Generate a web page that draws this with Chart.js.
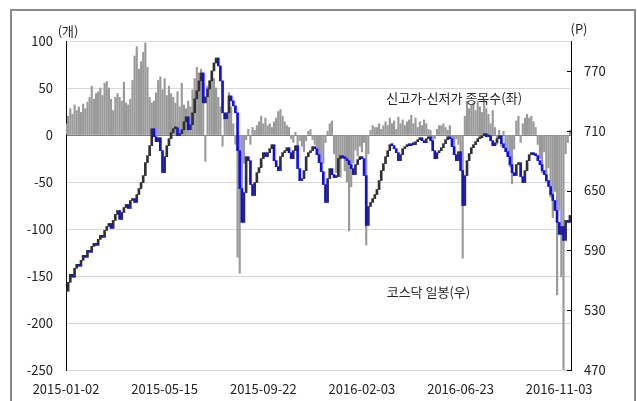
<!DOCTYPE html>
<html>
<head>
<meta charset="utf-8">
<script src="https://cdn.jsdelivr.net/npm/chart.js@4.4.0/dist/chart.umd.min.js"></script>
<style>
  html, body { margin: 0; padding: 0; background: #fff; }
  #wrap { position: relative; width: 637px; height: 401px; overflow: hidden; }
  #frame { position: absolute; left: 10px; top: 9px; width: 622px; height: 400px; border: 2px solid #8a8a8a; }
  canvas { position: absolute; left: 0; top: 0; }
</style>
</head>
<body>
<div id="wrap">
  <div id="frame"></div>
  <canvas id="chart" width="637" height="401"></canvas>
</div>
<script>
// x 축 날짜 라벨 (2거래일 간격 데이터 기준 위치)
const dateLabels = ['2015-01-02', '2015-05-15', '2015-09-22', '2016-02-03', '2016-06-23', '2016-11-03'];
const dateIndex = [0, 46, 92, 138, 184, 230];
const leftTicks = [-250, -200, -150, -100, -50, 0, 50, 100];
const rightTicks = [470, 530, 590, 650, 710, 770];

// 신고가-신저가 종목수 (개)
const highLowCount = [
  12, 20, 28, 22, 32, 26, 30, 24, 33, 28,
  35, 40, 52, 38, 44, 46, 50, 42, 55, 57,
  50, 38, 26, 40, 44, 40, 36, 56, 34, 32,
  38, 58, 84, 94, 70, 78, 88, 98, 72, 40,
  34, 36, 45, 58, 62, 48, 60, 42, 52, 44,
  40, 34, 46, 30, 55, 32, 28, 36, 30, 48,
  60, 72, 66, 70, 55, -28, 52, 58, 65, 60,
  50, 40, 30, -12, 22, 18, 45, 30, 12, -10,
  -130, -147, -90, -30, -5, 6, -10, 8, 5, 10,
  14, 20, 12, 18, 10, 12, 8, 14, 18, 25,
  27, 20, 14, 10, 8, -4, -8, 3, -14, -6,
  -12, -18, -6, 4, 6, -5, -10, -14, -22, -36,
  -30, -8, 4, 12, 15, -20, -40, -30, -45, -25,
  -38, -50, -102, -55, -30, -16, -22, -12, -18, -8,
  -117, -20, 5, 10, 8, 8, 12, 6, 10, 14,
  10, 18, 12, 15, 6, 19, 12, 16, 10, 14,
  16, 21, 12, 18, 8, 14, 10, 16, 12, 6,
  5, -8, -4, 6, 10, 10, 12, 8, 5, 10,
  -6, -14, -4, -10, -20, -131, 20, 36, 28, 32,
  34, 26, 36, 30, 24, 38, 28, 22, 12, 26,
  8, -10, 5, -12, 4, -12, -20, -34, -52, -15,
  15, 20, -8, 12, 18, 22, 18, 20, 14, 8,
  -10, -25, -40, -18, -50, -35, -66, -88, -60, -170,
  -80, -151, -250, -20, -8, 5
];

// 코스닥 종가 (P)
const kosdaqClose = [
  549, 558, 566, 563, 572, 576, 574, 580, 585, 583,
  590, 588, 594, 597, 595, 601, 605, 603, 610, 614,
  617, 612, 620, 626, 630, 621, 628, 633, 636, 632,
  640, 642, 638, 646, 652, 658, 665, 678, 685, 695,
  712, 704, 699, 703, 690, 668, 684, 695, 702, 708,
  712, 713, 705, 707, 711, 719, 724, 711, 716, 728,
  742, 750, 760, 768, 738, 744, 752, 760, 770, 778,
  783, 775, 760, 728, 722, 728, 745, 740, 735, 728,
  690, 652, 618, 648, 684, 680, 656, 645, 658, 668,
  673, 682, 688, 684, 688, 692, 696, 680, 674, 670,
  684, 688, 690, 693, 688, 682, 690, 695, 672, 660,
  662, 670, 684, 688, 690, 694, 692, 686, 678, 669,
  656, 638, 662, 672, 666, 663, 664, 682, 685, 683,
  682, 680, 676, 672, 666, 676, 681, 684, 682, 665,
  615, 634, 638, 642, 646, 651, 660, 670, 677, 684,
  690, 696, 695, 692, 688, 680, 686, 692, 694, 696,
  695, 697, 696, 699, 701, 703, 700, 698, 702, 704,
  700, 690, 682, 688, 690, 693, 697, 701, 704, 702,
  694, 686, 680, 689, 670, 635, 665, 680, 687, 693,
  696, 699, 702, 703, 705, 707, 704, 705, 700, 695,
  698, 702, 705, 697, 693, 689, 684, 676, 668, 665,
  676, 678, 664, 658, 670, 680, 686, 688, 686, 685,
  680, 676, 670, 666, 660, 654, 646, 640, 630, 618,
  606, 614, 600, 620, 618, 625
];

const FONT = "'Noto Sans CJK KR', 'Noto Sans', sans-serif";

const barPoints = highLowCount.map((v, i) => ({ x: i, y: v }));
const candlePoints = kosdaqClose.map((c, i) => ({ x: i, y: [i ? kosdaqClose[i - 1] : c, c] }));
const candleColors = kosdaqClose.map((c, i) => (i && c < kosdaqClose[i - 1]) ? '#0b0bff' : '#303030');

// 텍스트 라벨과 오른쪽 축 안쪽 눈금
const labelPlugin = {
  id: 'labels',
  afterDatasetsDraw(chart) {
    const ctx = chart.ctx;
    const a = chart.chartArea;
    const x = chart.scales.x, yL = chart.scales.yL, yR = chart.scales.yR;
    ctx.save();
    ctx.strokeStyle = '#000';
    ctx.lineWidth = 1;
    rightTicks.forEach(t => {
      const py = Math.round(yR.getPixelForValue(t)) + 0.5;
      ctx.beginPath();
      ctx.moveTo(a.right - 4, py);
      ctx.lineTo(a.right, py);
      ctx.stroke();
    });
    ctx.fillStyle = '#262626';
    ctx.font = '13px ' + FONT;
    ctx.textAlign = 'center';
    ctx.textBaseline = 'middle';
    ctx.fillText('(개)', a.left + 2, a.top - 10);
    ctx.fillText('(P)', a.right + 8, a.top - 12);
    ctx.fillText('신고가-신저가 종목수(좌)', x.getPixelForValue(181), yL.getPixelForValue(39));
    ctx.fillText('코스닥 일봉(우)', x.getPixelForValue(169), yL.getPixelForValue(-167));
    ctx.restore();
  }
};

new Chart(document.getElementById('chart'), {
  type: 'bar',
  data: {
    datasets: [
      {
        label: '코스닥 일봉(우)',
        data: candlePoints,
        yAxisID: 'yR',
        backgroundColor: candleColors,
        barThickness: 2,
        minBarLength: 2,
        grouped: false,
        order: 0
      },
      {
        label: '신고가-신저가 종목수(좌)',
        data: barPoints,
        yAxisID: 'yL',
        backgroundColor: '#9a9a9a',
        barThickness: 1.5,
        grouped: false,
        order: 1
      }
    ]
  },
  options: {
    responsive: false,
    animation: false,
    devicePixelRatio: 1,
    layout: { padding: { top: 41, left: 0, right: 0, bottom: 0 } },
    plugins: { legend: { display: false }, tooltip: { enabled: false } },
    scales: {
      x: {
        type: 'linear',
        offset: false,
        min: 0,
        max: 235.5,
        grid: { display: false, drawTicks: false },
        border: { display: false },
        afterBuildTicks: axis => { axis.ticks = dateIndex.map(v => ({ value: v })); },
        afterFit: s => { s.height = 31; },
        ticks: {
          padding: 11,
          maxRotation: 0,
          autoSkip: false,
          color: '#222',
          font: { family: FONT, size: 13 },
          callback: v => dateLabels[dateIndex.indexOf(v)] || ''
        }
      },
      yL: {
        position: 'left',
        min: -250,
        max: 100,
        afterBuildTicks: axis => { axis.ticks = leftTicks.map(v => ({ value: v })); },
        afterFit: s => { s.width = 66; },
        grid: {
          color: c => c.tick && c.tick.value === 0 ? '#7f7f7f' : '#d9d9d9',
          drawTicks: false
        },
        border: { color: '#000', width: 1 },
        ticks: { padding: 13, color: '#222', font: { family: FONT, size: 13 } }
      },
      yR: {
        position: 'right',
        min: 470,
        max: 800,
        afterBuildTicks: axis => { axis.ticks = rightTicks.map(v => ({ value: v })); },
        afterFit: s => { s.width = 66; },
        grid: { drawOnChartArea: false, drawTicks: false },
        border: { color: '#000', width: 1 },
        ticks: { padding: 13, color: '#222', font: { family: FONT, size: 13 } }
      }
    }
  },
  plugins: [labelPlugin]
});
</script>
</body>
</html>
